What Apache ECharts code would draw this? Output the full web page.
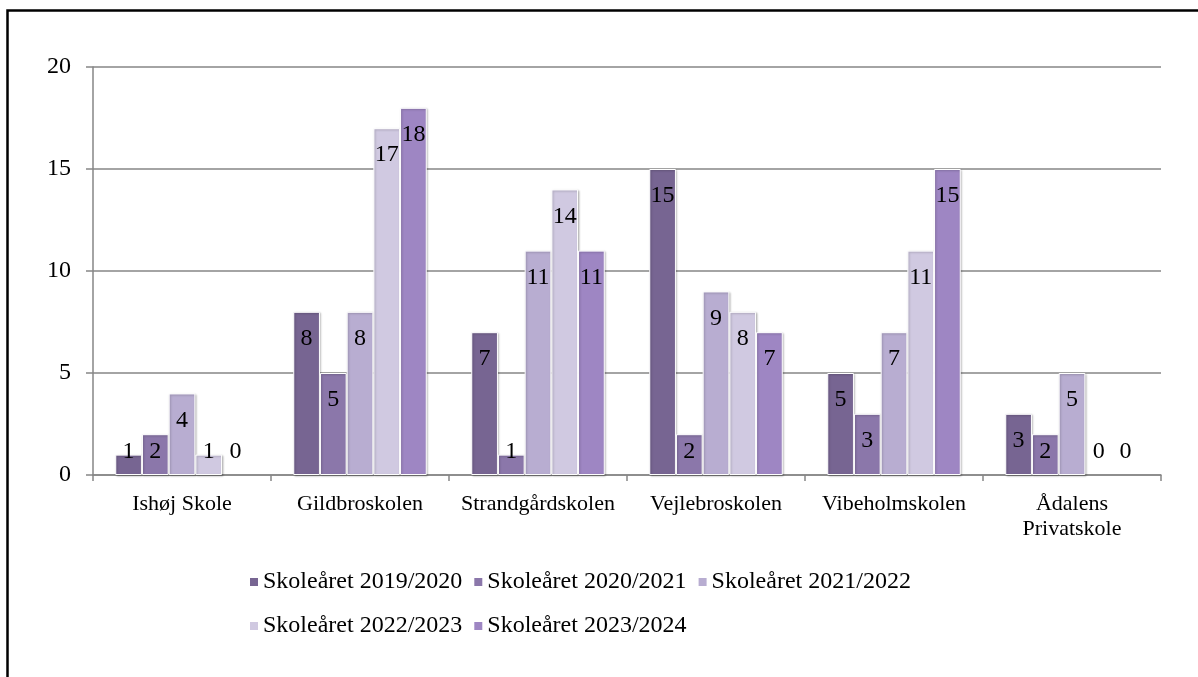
<!DOCTYPE html>
<html>
<head>
<meta charset="utf-8">
<script src="https://cdn.jsdelivr.net/npm/echarts@6/dist/echarts.min.js"></script>
<style>
html,body{margin:0;padding:0;background:#fff;}
#chart{width:1198px;height:677px;}
</style>
</head>
<body>
<div id="chart"></div>
<script>
const categories = ['Ishøj Skole', 'Gildbroskolen', 'Strandgårdskolen', 'Vejlebroskolen', 'Vibeholmskolen', 'Ådalens\nPrivatskole'];
const seriesNames = ['Skoleåret 2019/2020', 'Skoleåret 2020/2021', 'Skoleåret 2021/2022', 'Skoleåret 2022/2023', 'Skoleåret 2023/2024'];
const s2019 = [1, 8, 7, 15, 5, 3];
const s2020 = [2, 5, 1, 2, 3, 2];
const s2021 = [4, 8, 11, 9, 7, 5];
const s2022 = [1, 17, 14, 8, 11, 0];
const s2023 = [0, 18, 11, 7, 15, 0];
const yTicks = [0, 5, 10, 15, 20];

const colors = ['#776592', '#8b77aa', '#b8add1', '#d0c9e1', '#9e86c3'];
const allValues = [s2019, s2020, s2021, s2022, s2023];
const FONT = 'Liberation Serif';

function buildData(vals) {
  return vals.map(v => {
    const small = v <= 2;
    const item = {
      value: v,
      label: small
        ? { position: 'insideBottom', distance: 11 }
        : { position: 'insideTop', distance: 15 }
    };
    if (v === 0) {
      item.itemStyle = { borderWidth: 0, shadowBlur: 0, shadowOffsetX: 0, shadowOffsetY: 0, shadowColor: 'transparent' };
    }
    return item;
  });
}

const chart = echarts.init(document.getElementById('chart'), null, { renderer: 'canvas' });
chart.setOption({
  animation: false,
  backgroundColor: '#fff',
  color: colors,
  graphic: [{
    type: 'rect',
    shape: { x: 7.5, y: 10.5, width: 1300, height: 800 },
    style: { fill: 'none', stroke: '#000', lineWidth: 2.5 },
    silent: true
  }],
  grid: { left: 93, right: 37, top: 67, bottom: 202, containLabel: false },
  legend: {
    data: seriesNames,
    left: 243,
    top: 560,
    width: 730,
    orient: 'horizontal',
    itemWidth: 10,
    itemHeight: 10,
    itemGap: 10,
    icon: 'rect',
    textStyle: { fontFamily: FONT, fontSize: 24, color: '#000', lineHeight: 34, padding: [0, 0, 0, -1] }
  },
  xAxis: {
    type: 'category',
    data: categories,
    axisLine: { lineStyle: { color: '#868686', width: 1.5 } },
    axisTick: { show: true, length: 6, lineStyle: { color: '#868686', width: 1.5 } },
    axisLabel: { interval: 0, fontFamily: FONT, fontSize: 22, color: '#000', margin: 17, lineHeight: 25 }
  },
  yAxis: {
    type: 'value',
    min: 0,
    max: 20,
    interval: 5,
    axisLine: { show: true, lineStyle: { color: '#868686', width: 1.5 } },
    axisTick: { show: true, length: 7, lineStyle: { color: '#868686', width: 1.5 } },
    splitLine: { lineStyle: { color: '#868686', width: 1.5 } },
    axisLabel: { fontFamily: FONT, fontSize: 24, color: '#000', margin: 22,
      formatter: v => yTicks.includes(v) ? String(v) : '' }
  },
  series: seriesNames.map((name, i) => ({
    name: name,
    type: 'bar',
    data: buildData(allValues[i]),
    barGap: '0%',
    barCategoryGap: '25%',
    itemStyle: {
      color: colors[i],
      borderColor: '#fff',
      borderWidth: 1,
      shadowColor: 'rgba(0,0,0,0.25)',
      shadowBlur: 2,
      shadowOffsetX: 1,
      shadowOffsetY: 1
    },
    label: {
      show: true,
      fontFamily: FONT,
      fontSize: 24,
      color: '#000'
    }
  }))
});
</script>
</body>
</html>
